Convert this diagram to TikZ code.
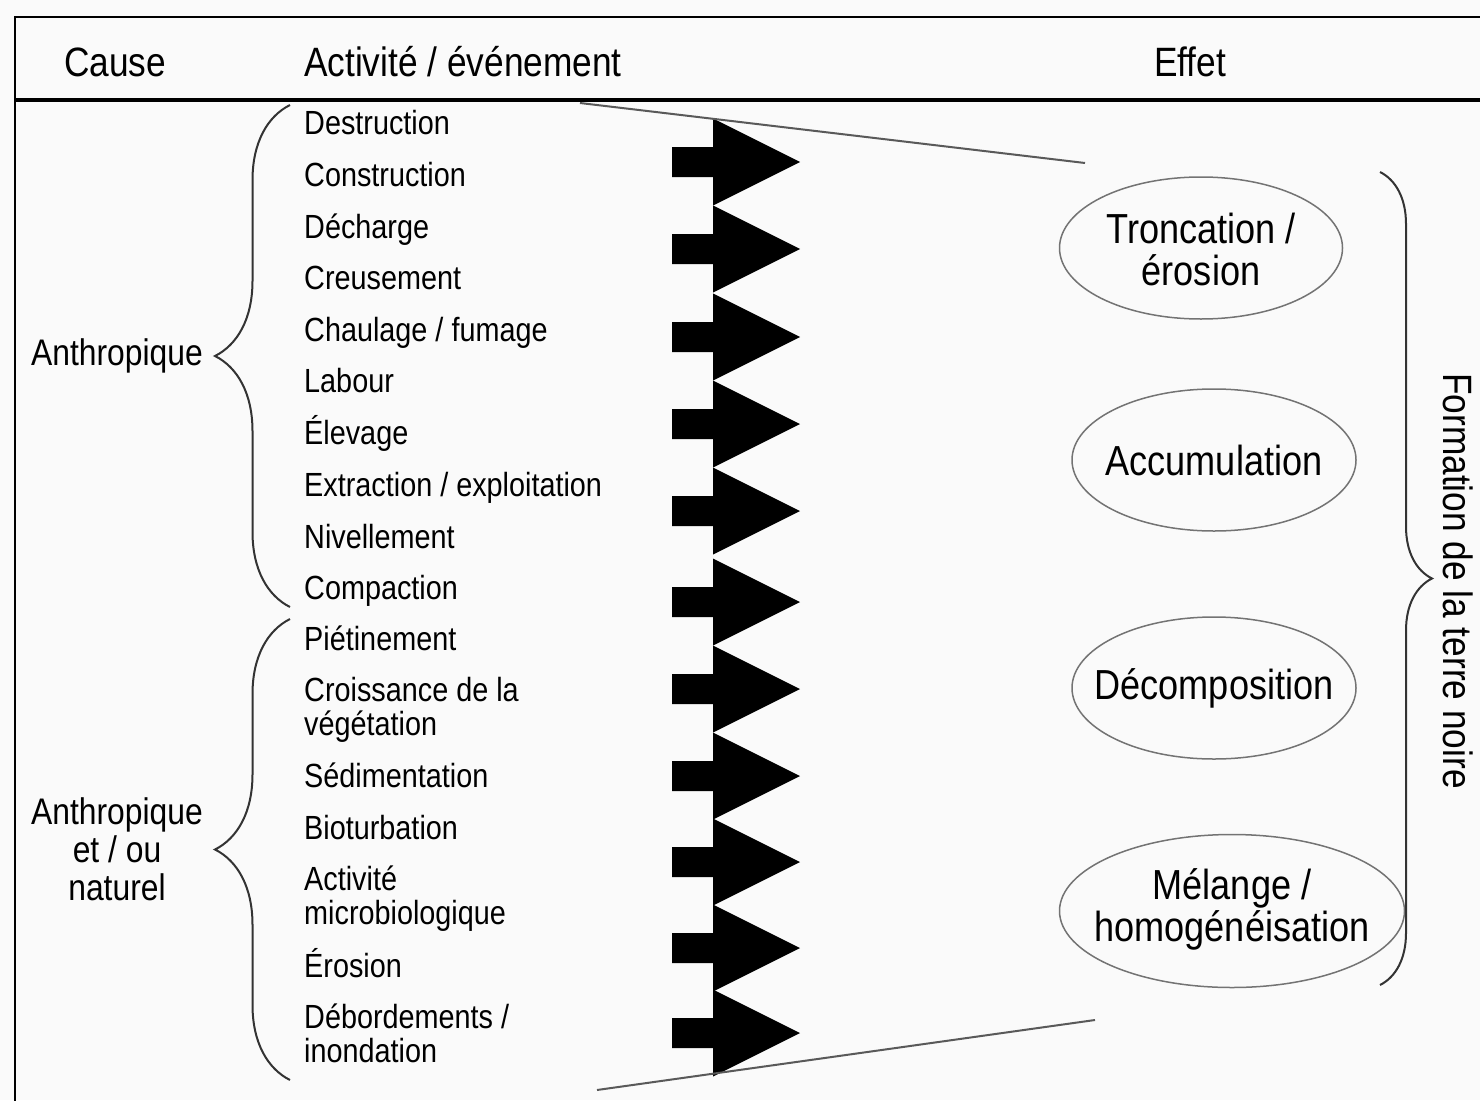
\documentclass[tikz,border=0pt]{standalone}
\usepackage{fontspec}
\setmainfont[FakeStretch=0.86]{Liberation Sans}
\usetikzlibrary{decorations.pathreplacing}
\tikzset{
  item/.style={anchor=base west, inner sep=0pt, align=left, font=\fontsize{33.5}{34}\selectfont},
  head/.style={anchor=base, inner sep=0pt, font=\fontsize{41}{46}\selectfont},
  cause/.style={anchor=base, inner sep=0pt, align=center, font=\fontsize{37}{38}\selectfont},
  effet/.style={inner sep=0pt, align=center, font=\fontsize{42}{42}\selectfont},
  ring/.style={draw=black!55, line width=1.5pt},
  accolade/.style={draw=black!80, line width=2pt, decorate},
  bigarrow/.style={fill=black},
  funnel/.style={draw=black!65, line width=2pt}
}
\begin{document}
\begin{tikzpicture}[x=1pt,y=-1pt]
  \clip (0,0) rectangle (1480,1100);
  \fill[black!2] (0,0) rectangle (1480,1100);
  \draw[line width=2.5pt] (15,1120) -- (15,17) -- (1500,17);
  \draw[line width=3.5pt] (15,100) -- (1500,100);

  \node[head] (hcause) at (115,76){Cause};   \node[head, anchor=base west] (hact) at (304,76){Activité / événement};   \node[head] (heffet) at (1190,76){Effet};

  \node[item] (a1) at (304,134){Destruction};
  \node[item] (a2) at (304,186){Construction};
  \node[item] (a3) at (304,238){Décharge};
  \node[item] (a4) at (304,289){Creusement};
  \node[item] (a5) at (304,341){Chaulage / fumage};
  \node[item] (a6) at (304,392){Labour};
  \node[item] (a7) at (304,444){Élevage};
  \node[item] (a8) at (304,496){Extraction / exploitation};
  \node[item] (a9) at (304,548){Nivellement};
  \node[item] (a10) at (304,599){Compaction};
  \node[item] (b1) at (304,650){Piétinement};
  \node[item] (b2) at (304,735){Croissance de la\\végétation};
  \node[item] (b3) at (304,787){Sédimentation};
  \node[item] (b4) at (304,839){Bioturbation};
  \node[item] (b5) at (304,924){Activité\\microbiologique};
  \node[item] (b6) at (304,977){Érosion};
  \node[item] (b7) at (304,1062){Débordements /\\inondation};

  \node[cause] (anthro) at (117,365){Anthropique};
  \node[cause] (mixte) at (117,900){Anthropique\\et / ou\\naturel};

  \draw[accolade, decoration={brace, amplitude=75}] (290,607) -- (290,105);
  \draw[accolade, decoration={brace, amplitude=75}] (290,1080) -- (290,619);

  \foreach \c in {162,249,337,424,511,602,689,776,862,948,1033}
    \fill[bigarrow] (672,\c-15) -- (713,\c-15) -- (713,\c-43.5) -- (800,\c) -- (713,\c+43.5) -- (713,\c+15) -- (672,\c+15) -- cycle;

  \coordinate (ftop1) at (580,103);  \coordinate (ftop2) at (1085,163);
  \coordinate (fbot1) at (597,1090); \coordinate (fbot2) at (1095,1020);
  \draw[funnel] (ftop1) -- (ftop2);
  \draw[funnel] (fbot1) -- (fbot2);

  \node[effet] (tronc) at (1201,249){Troncation /\\érosion};
  \node[effet] (accu) at (1214,460){Accumulation};
  \node[effet] (decomp) at (1214,688){Décomposition};
  \node[effet] (melange) at (1232,909){Mélange /\\homogénéisation};
  \draw[ring] (1201,248) ellipse [x radius=141.5, y radius=71];
  \draw[ring] (accu.center) ellipse [x radius=142, y radius=71];
  \draw[ring] (decomp.center) ellipse [x radius=142, y radius=71];
  \draw[ring] (1232,911) ellipse [x radius=172.5, y radius=76.5];

  \draw[accolade, decoration={brace, amplitude=52}] (1380,172) -- (1380,985);
  \node[rotate=-90, inner sep=0pt, font=\fontsize{41}{46}\selectfont] (formation) at (1458,581){Formation de la terre noire};
\end{tikzpicture}
\end{document}
